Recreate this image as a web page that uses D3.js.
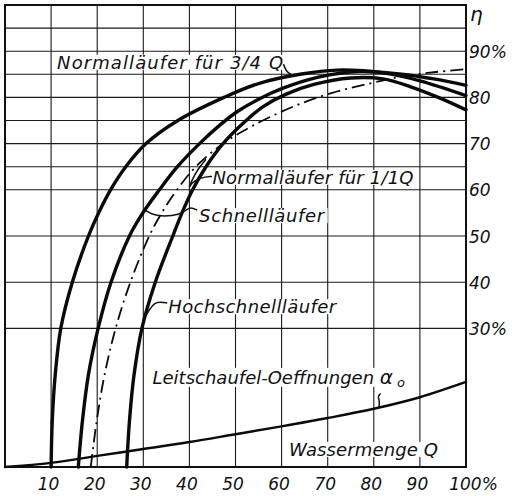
<!DOCTYPE html>
<html>
<head>
<meta charset="utf-8">
<script src="https://cdn.jsdelivr.net/npm/d3@7"></script>
<style>
  html, body { margin: 0; padding: 0; background: #fff; }
  svg { display: block; }
  .lbl { font-family: "DejaVu Sans", sans-serif; font-style: italic; font-size: 18px; fill: #111; }
  .tick { font-family: "DejaVu Sans", sans-serif; font-style: italic; font-size: 17px; fill: #111; }
</style>
</head>
<body>
<svg id="chart" width="512" height="496"></svg>
<script>
// Wassermenge Q (% of full flow) on x, Wirkungsgrad η (%) on y
const xTicks = [10, 20, 30, 40, 50, 60, 70, 80, 90, 100];
const xGrid = [10, 20, 30, 40, 50, 60, 70, 80, 90];
const yGrid = [30, 40, 50, 60, 65, 70, 75, 80, 85, 90, 95];
const yTicks = [30, 40, 50, 60, 70, 80, 90];

// Efficiency curves: [Q, η]
const normal34 = [[10,0],[10.25,10],[10.9,20],[12.1,30],[14.6,40],[18.1,50],[20.3,55],[22.9,60],[26.2,65],[30.6,70],[37.5,75],[47.5,80],[55,83],[64,85],[72,85.9],[82,85.3],[90,83.6],[100,80.4]];
const schnell = [[15.9,0],[16.8,10],[18.1,20],[20.2,30],[23,40],[27,50],[29.9,55],[33.5,60],[37.4,65],[42.2,70],[46.6,74],[50.5,77],[55,79.6],[60.3,82],[68,84.4],[77,85.6],[86,85],[93,84],[100,82.6]];
const normal11 = [[18.6,0],[19.9,10],[21.6,20],[24,30],[27.2,40],[31.3,50],[34,55],[37.3,60],[41.4,65],[47.3,70],[54,74],[62.5,78],[71,81],[79,83],[86,84.5],[93.5,85.5],[100,86.1]];
const hochschnell = [[26.4,0],[27,10],[28,20],[29.7,30],[32.6,40],[36.4,50],[38.4,55],[40.7,60],[43.6,65],[47.3,70],[52.3,75],[56,78],[61,80.7],[67,82.8],[75,84.2],[82,84],[88,82.3],[94,80],[100,77.3]];
// Leitschaufel-Oeffnungen α0 over Wassermenge Q
const oeffnung = [[0,0],[10,0.9],[20,2.4],[30,3.9],[40,5.4],[50,7.1],[60,8.8],[70,10.6],[80,12.6],[90,15.1],[100,18.4]];

const svg = d3.select("#chart");
const x = d3.scaleLinear().domain([0, 100]).range([5, 466]);
const y = d3.scaleLinear().domain([0, 100]).range([467, 5]);

// grid
const grid = svg.append("g").attr("stroke", "#1a1a1a").attr("stroke-width", 1.1);
grid.selectAll("line.v").data(xGrid).join("line")
  .attr("x1", d => x(d)).attr("x2", d => x(d)).attr("y1", y(0)).attr("y2", y(100));
grid.selectAll("line.h").data(yGrid).join("line")
  .attr("y1", d => y(d)).attr("y2", d => y(d)).attr("x1", x(0)).attr("x2", x(100));

// frame
svg.append("rect")
  .attr("x", x(0)).attr("y", y(100))
  .attr("width", x(100) - x(0)).attr("height", y(0) - y(100))
  .attr("fill", "none").attr("stroke", "#111").attr("stroke-width", 2);

// axis labels
const xAxis = d3.axisBottom(x).tickValues(xTicks).tickSize(0)
  .tickFormat(d => d === 100 ? "100%" : d);
const gx = svg.append("g").attr("transform", `translate(0,${y(0)})`).call(xAxis);
gx.select(".domain").remove();
gx.selectAll("text").attr("class", "tick").attr("font-size", null).attr("font-family", null)
  .attr("dy", null).attr("y", 23).attr("dx", d => d === 100 ? 7 : -3);

const yAxis = d3.axisRight(y).tickValues(yTicks).tickSize(0)
  .tickFormat(d => (d === 90 || d === 30) ? d + "%" : d);
const gy = svg.append("g").attr("transform", `translate(${x(100)},0)`).call(yAxis);
gy.select(".domain").remove();
gy.selectAll("text").attr("class", "tick").attr("font-size", null).attr("font-family", null)
  .attr("x", 3).attr("dy", "0.36em");

svg.append("text").attr("class", "tick")
  .attr("x", x(100) + 4).attr("y", y(100) + 16)
  .style("font-size", "20px").text("η");

// text labels with white ground over the grid
function label(txt, q, eta, len) {
  const g = svg.append("g");
  const t = g.append("text").attr("class", "lbl").attr("x", x(q)).attr("y", y(eta));
  txt(t);
  if (len) t.attr("textLength", len).attr("lengthAdjust", "spacing");
  const b = t.node().getBBox();
  g.insert("rect", "text")
    .attr("x", b.x - 2).attr("y", b.y + 3)
    .attr("width", b.width + 4).attr("height", b.height - 6)
    .attr("fill", "#fff");
  return g;
}
label(t => t.text("Normalläufer für 3/4 Q"), 11.3, 86.2, 226);
label(t => t.text("Normalläufer für 1/1Q"), 45, 61.3, 201);
label(t => t.text("Schnellläufer"), 42.1, 53, 125);
label(t => t.text("Hochschnellläufer"), 35.4, 33.3, 168);
label(t => {
  t.append("tspan").text("Leitschaufel-Oeffnungen ");
  t.append("tspan").style("font-size", "20px").text("α");
  t.append("tspan").attr("dy", 3).style("font-size", "13px").text(" o");
}, 32, 18);
label(t => t.text("Wassermenge Q"), 61.6, 2.4, 149);

// curves
const line = d3.line().x(d => x(d[0])).y(d => y(d[1])).curve(d3.curveCatmullRom.alpha(0.5));
const curves = svg.append("g").attr("fill", "none").attr("stroke", "#0a0a0a").attr("stroke-linecap", "round");
[normal34, schnell, hochschnell].forEach(c =>
  curves.append("path").attr("d", line(c)).attr("stroke-width", 3.4));
curves.append("path").attr("d", line(normal11)).attr("stroke-width", 1.8)
  .attr("stroke-dasharray", "13,5,2,5").attr("stroke-linecap", "butt");
curves.append("path").attr("d", line(oeffnung)).attr("stroke-width", 2.4);

// leader hooks from labels to curves
const hook = d3.line().x(d => x(d[0])).y(d => y(d[1])).curve(d3.curveBasis);
const hooks = [
  [[60.4,87.2],[61,85.6],[62,85],[62.8,84.7]],
  [[44.9,62.9],[42.5,62.7],[40.4,61.5],[39.9,60.2],[40.2,61.4],[41.8,64.5],[43.6,66.6]],
  [[41.7,55.6],[40.3,56.3],[39.2,55.6],[37.9,54.6],[34.4,54.2],[32,54.6],[30.4,55.6]],
  [[35.2,35.5],[33.6,35.7],[32.4,35.5],[31.4,34.2],[30.4,32.5]],
  [[81.5,15.9],[80.8,15.3],[81.3,14.2],[81.1,12.8]]
];
svg.append("g").attr("fill", "none").attr("stroke", "#111").attr("stroke-width", 1.5)
  .selectAll("path").data(hooks).join("path").attr("d", hook);
</script>
</body>
</html>
